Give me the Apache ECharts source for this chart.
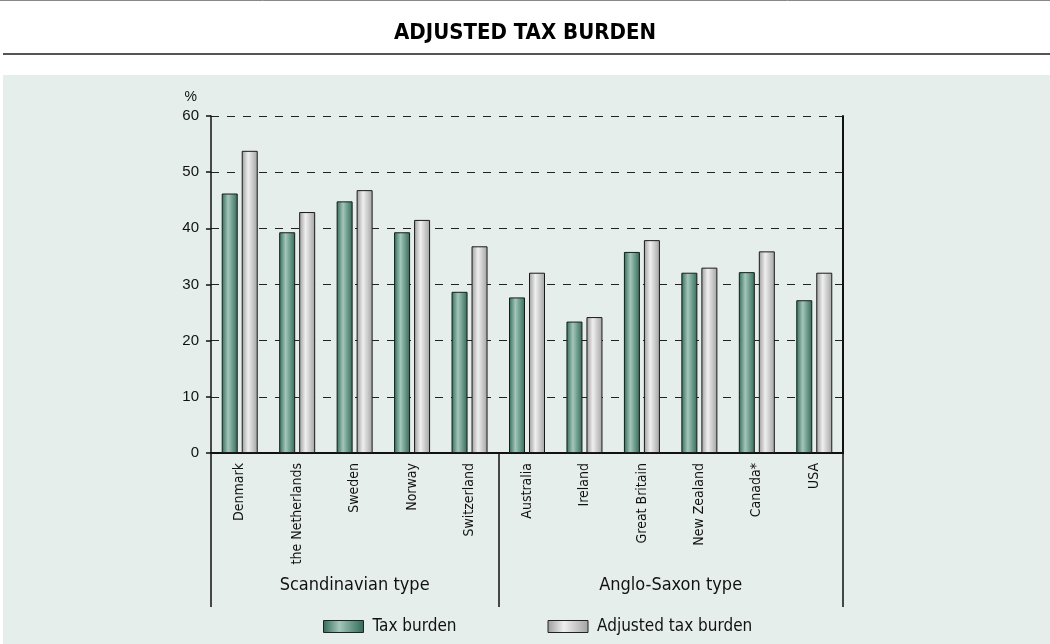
<!DOCTYPE html>
<html>
<head>
<meta charset="utf-8">
<script src="https://cdn.jsdelivr.net/npm/echarts@6/dist/echarts.min.js"></script>
<style>
  html, body { margin: 0; padding: 0; background: #fff; }
  #chart { width: 1050px; height: 644px; }
</style>
</head>
<body>
<div id="chart"></div>
<script>
// data
const countries = ['Denmark', 'the Netherlands', 'Sweden', 'Norway', 'Switzerland',
  'Australia', 'Ireland', 'Great Britain', 'New Zealand', 'Canada*', 'USA'];
const taxBurden = [46.2, 39.3, 44.8, 39.3, 28.7, 27.7, 23.4, 35.8, 32.1, 32.2, 27.2];
const adjustedBurden = [53.8, 42.9, 46.8, 41.5, 36.8, 32.1, 24.2, 37.9, 33.0, 35.9, 32.1];
const groupNames = ['Scandinavian type', 'Anglo-Saxon type'];
const groupBounds = [0, 5, 11];   // category index where each group starts / ends
const groupCentres = [2.5, 8];
const yTicks = [0, 10, 20, 30, 40, 50, 60];

const narrow = "'Liberation Sans Narrow', 'DejaVu Sans Condensed', 'Roboto', sans-serif";
const plain = "'Liberation Sans', Arial, sans-serif";

const green = new echarts.graphic.LinearGradient(0, 0, 1, 0, [
  { offset: 0, color: '#2f6b58' },
  { offset: 0.4, color: '#a4c6b9' },
  { offset: 1, color: '#2f6b58' }
]);
const grey = new echarts.graphic.LinearGradient(0, 0, 1, 0, [
  { offset: 0, color: '#9c9c9c' },
  { offset: 0.4, color: '#efefef' },
  { offset: 1, color: '#a2a2a2' }
]);

const chart = echarts.init(document.getElementById('chart'));

const option = {
  animation: false,
  backgroundColor: '#fff',
  graphic: [
    { type: 'rect', z: -10, shape: { x: 3, y: 75, width: 1047, height: 569 }, style: { fill: '#e5eeea' } },
    { type: 'line', shape: { x1: 0, y1: 0.5, x2: 1050, y2: 0.5 }, style: { stroke: '#888', lineWidth: 1 } },
    { type: 'line', shape: { x1: 3, y1: 54, x2: 1050, y2: 54 }, style: { stroke: '#555', lineWidth: 2 } },
    { type: 'text', x: 525, y: 33, style: { text: 'ADJUSTED TAX BURDEN', font: "bold 22px " + narrow, fill: '#000', align: 'center', verticalAlign: 'middle' } }
  ],
  grid: { left: 211, right: 207, top: 116, bottom: 191 },
  legend: {
    top: 613,
    left: 318,
    itemWidth: 40,
    itemHeight: 12,
    itemGap: 91,
    icon: 'rect',
    textStyle: { fontFamily: narrow, fontSize: 17, color: '#111', padding: [0, 0, 0, 4] },
    itemStyle: { borderColor: '#222', borderWidth: 1 },
    data: ['Tax burden', 'Adjusted tax burden']
  },
  xAxis: [
    {
      type: 'category',
      data: countries,
      axisLine: { lineStyle: { color: '#111', width: 2 } },
      axisTick: { length: 5, lineStyle: { color: '#111', width: 2 } },
      axisLabel: { rotate: 90, fontFamily: narrow, fontSize: 14, color: '#111', margin: 10 }
    },
    {
      type: 'value',
      min: 0,
      max: 11,
      position: 'bottom',
      axisLine: { show: false },
      splitLine: { show: false },
      axisTick: { show: true, customValues: groupBounds, length: 154, lineStyle: { color: '#111', width: 1.5 } },
      axisLabel: {
        customValues: groupCentres,
        formatter: v => groupNames[groupCentres.indexOf(v)],
        margin: 123,
        fontFamily: narrow,
        fontSize: 18,
        color: '#111'
      }
    }
  ],
  yAxis: [
    {
      type: 'value',
      min: 0,
      max: 60,
      interval: 10,
      name: '%',
      nameGap: 12,
      nameTextStyle: { fontFamily: plain, fontSize: 14, color: '#111', align: 'right', padding: [0, 14, 0, 0] },
      axisLine: { show: true, lineStyle: { color: '#111', width: 1.5 } },
      axisTick: { show: true, length: 5, lineStyle: { color: '#111', width: 1.5 } },
      axisLabel: {
        fontFamily: plain, fontSize: 15, color: '#111', margin: 12,
        formatter: v => (yTicks.indexOf(v) >= 0 ? String(v) : '')
      },
      splitLine: { show: true, lineStyle: { color: '#222', type: [8, 8], width: 1 } }
    },
    {
      type: 'value',
      min: 0,
      max: 60,
      position: 'right',
      axisLine: { show: true, lineStyle: { color: '#111', width: 2 } },
      axisTick: { show: false },
      axisLabel: { show: false },
      splitLine: { show: false }
    }
  ],
  series: [
    {
      name: 'Tax burden',
      type: 'bar',
      data: taxBurden,
      barWidth: 16,
      barGap: '25%',
      itemStyle: { color: green, borderColor: '#1a1a1a', borderWidth: 1 }
    },
    {
      name: 'Adjusted tax burden',
      type: 'bar',
      data: adjustedBurden,
      barWidth: 16,
      itemStyle: { color: grey, borderColor: '#1a1a1a', borderWidth: 1 }
    }
  ]
};

chart.setOption(option);
</script>
</body>
</html>
